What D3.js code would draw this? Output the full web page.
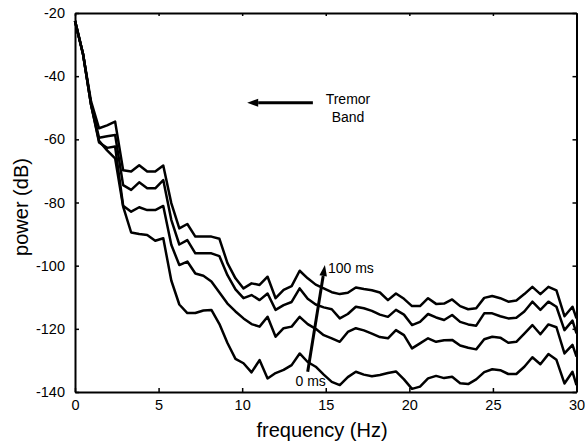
<!DOCTYPE html>
<meta charset="utf-8">
<script src="https://cdn.jsdelivr.net/npm/d3@7"></script>

<style>
body { margin: 0; background: #fff; }
text { font-family: "Liberation Sans", Arial, Helvetica, sans-serif; fill: #000; }
.curve { fill: none; stroke: #000; stroke-width: 2.5; stroke-linejoin: round; }
.axis path, .axis line { stroke: #000; }
.axis path { stroke-width: 2; }
.axis line { stroke-width: 1.5; }
</style>

<div id="chart"></div>

<script>
// frequency bins (Hz)
const freq = [0, 0.48, 0.96, 1.44, 1.92, 2.4, 2.88, 3.36, 3.84, 4.32, 4.8, 5.28, 5.76, 6.24, 6.72, 7.2,
  7.68, 8.16, 8.64, 9.12, 9.6, 10.08, 10.56, 11.04, 11.52, 12, 12.48, 12.96, 13.44, 13.92, 14.4, 14.88,
  15.36, 15.84, 16.32, 16.8, 17.28, 17.76, 18.24, 18.72, 19.2, 19.68, 20.16, 20.64, 21.12, 21.6, 22.08,
  22.56, 23.04, 23.52, 24, 24.48, 24.96, 25.44, 25.92, 26.4, 26.88, 27.36, 27.84, 28.32, 28.8, 29.28, 29.76, 30];

// power (dB), one array per delay, from the top curve (100 ms) down to 0 ms
const power100ms = [-22.5,-33,-48,-56.5,-55.6,-54.4,-69.8,-70.2,-68.2,-70.2,-70.2,-68.3,-80.2,-88.2,-86.8,-90.8,
  -90.8,-90.8,-91.5,-99.2,-104,-107.2,-105.6,-106.1,-103.5,-110.3,-107.7,-106.5,-101.6,-104,-106,-107.2,
  -108.4,-109,-108.6,-106.9,-107.4,-107.8,-108.5,-110.9,-108.8,-110.5,-112.8,-112.8,-110.3,-112.1,-112,
  -110.7,-112.8,-113.8,-113.5,-110.2,-109.6,-110.3,-111.4,-111,-109,-106.7,-109,-106.7,-107.8,-116,-113,-116.7];
const powerMidHigh = [-22.5,-33,-49,-59.5,-59,-58.6,-74.5,-76,-73.6,-75.5,-75.5,-72.9,-85.5,-93.3,-91.9,-96.1,
  -96.1,-96.1,-97,-103,-107.5,-110.3,-109.3,-110.9,-108.8,-114,-112.5,-111.5,-107.2,-110.5,-112.3,-113.2,
  -113.8,-116.7,-115.3,-113,-113.5,-114.3,-115.5,-116.2,-114,-115.5,-118.8,-117.8,-115.3,-116.4,-117.2,
  -115.6,-117.8,-118.6,-119,-115.1,-115.1,-116,-116.7,-116.5,-114.5,-111.4,-114,-111.4,-113,-120.4,-117.4,-121.4];
const powerMidLow = [-22.5,-33,-49,-61,-62.7,-62.3,-81,-82.9,-81.5,-82.4,-82.4,-81.1,-93.4,-99.8,-98.7,-102.5,
  -103.2,-105,-108.5,-112,-114.5,-116.7,-118.5,-119.3,-116.2,-122.5,-119.8,-119.3,-116.2,-118.5,-120,-122,
  -123,-124.1,-121,-119.8,-120.5,-121.5,-122.6,-123,-120.4,-122,-126.2,-124.6,-123,-124.1,-123.6,-123.5,
  -125.3,-126,-126.5,-123.3,-122.5,-122.8,-124.4,-124.1,-121.5,-118.8,-121.7,-118.6,-119.5,-127.8,-125.1,-128.8];
const power0ms = [-22.5,-33,-49,-60.5,-63.5,-66,-81.3,-89.5,-90,-90.3,-92.1,-91.3,-104.7,-112.3,-115,-115,
  -114.2,-114,-118.5,-124.5,-129.5,-130.9,-133.8,-129.9,-135.7,-134,-133,-131.5,-127.8,-130.5,-132,-134.5,
  -136.8,-137.8,-135.3,-133.6,-134.5,-135,-134.6,-134,-133.5,-136,-139,-138.3,-135.7,-134.9,-135.6,-135.2,
  -137.2,-137.5,-136,-133.7,-132.8,-133.1,-134.3,-134.3,-132,-129,-131.2,-128,-129.8,-137.3,-133.6,-137.8];

const xTicks = [0, 5, 10, 15, 20, 25, 30];
const yTicks = [-20, -40, -60, -80, -100, -120, -140];

const width = 585, height = 447;
const margin = {top: 13, right: 8.5, bottom: 55, left: 75};

const svg = d3.select("#chart")
  .append("svg")
  .attr("width", width)
  .attr("height", height);

const x = d3.scaleLinear().domain([0, 30]).range([margin.left, width - margin.right]);
const y = d3.scaleLinear().domain([-140, -20]).range([height - margin.bottom, margin.top]);

// axes, ticks pointing inward
svg.append("g")
  .attr("class", "axis")
  .attr("transform", `translate(0,${y(-140)})`)
  .call(d3.axisBottom(x).tickValues(xTicks).tickFormat(d => String(d))
    .tickSizeInner(-4).tickSizeOuter(0).tickPadding(8))
  .call(g => g.selectAll("text").style("font-size", "14.5px"));

svg.append("g")
  .attr("class", "axis")
  .attr("transform", `translate(${x(0)},0)`)
  .call(d3.axisLeft(y).tickValues(yTicks).tickFormat(d => String(d))
    .tickSizeInner(-4).tickSizeOuter(0).tickPadding(10))
  .call(g => g.selectAll("text").style("font-size", "14.5px"));

svg.append("g")
  .attr("class", "axis")
  .attr("transform", `translate(0,${y(-20)})`)
  .call(d3.axisTop(x).tickValues(xTicks).tickFormat("").tickSizeInner(-3).tickSizeOuter(0));

svg.append("g")
  .attr("class", "axis")
  .attr("transform", `translate(${x(30)},0)`)
  .call(d3.axisRight(y).tickValues(yTicks).tickFormat("").tickSizeInner(-4).tickSizeOuter(0));

// curves
const line = d3.line()
  .x((d, i) => x(freq[i]))
  .y(d => y(d));

svg.append("g")
  .selectAll("path")
  .data([power100ms, powerMidHigh, powerMidLow, power0ms])
  .join("path")
  .attr("class", "curve")
  .attr("d", line);

// axis titles
svg.append("text")
  .attr("x", 322)
  .attr("y", 437)
  .attr("text-anchor", "middle")
  .style("font-size", "20px")
  .text("frequency (Hz)");

svg.append("text")
  .attr("transform", "translate(28,207) rotate(-90)")
  .attr("text-anchor", "middle")
  .style("font-size", "20px")
  .text("power (dB)");

// annotations
function arrow(x1, y1, x2, y2, len, half, sw) {
  const a = Math.atan2(y2 - y1, x2 - x1);
  const bx = x2 - len * Math.cos(a), by = y2 - len * Math.sin(a);
  svg.append("line")
    .attr("x1", x1).attr("y1", y1).attr("x2", bx).attr("y2", by)
    .attr("stroke", "#000").attr("stroke-width", sw);
  const px = -Math.sin(a) * half, py = Math.cos(a) * half;
  svg.append("path")
    .attr("d", `M${x2},${y2}L${bx + px},${by + py}L${bx - px},${by - py}Z`)
    .attr("fill", "#000");
}

arrow(x(14.23), y(-48.4), x(10.3), y(-48.4), 11, 4, 3);

svg.append("text")
  .attr("x", x(16.33)).attr("y", y(-47.2))
  .attr("dy", "0.35em")
  .attr("text-anchor", "middle")
  .style("font-size", "14px")
  .text("Tremor");
svg.append("text")
  .attr("x", x(16.33)).attr("y", y(-52.9))
  .attr("dy", "0.35em")
  .attr("text-anchor", "middle")
  .style("font-size", "14px")
  .text("Band");

arrow(x(13.92), y(-133.6), x(14.95), y(-99.8), 11, 3.8, 3);

svg.append("text")
  .attr("x", x(15.13)).attr("y", y(-100.7))
  .attr("dy", "0.35em")
  .style("font-size", "14px")
  .text("100 ms");
svg.append("text")
  .attr("x", x(14.1)).attr("y", y(-136.5))
  .attr("dy", "0.35em")
  .attr("text-anchor", "middle")
  .style("font-size", "14px")
  .text("0 ms");
</script>
